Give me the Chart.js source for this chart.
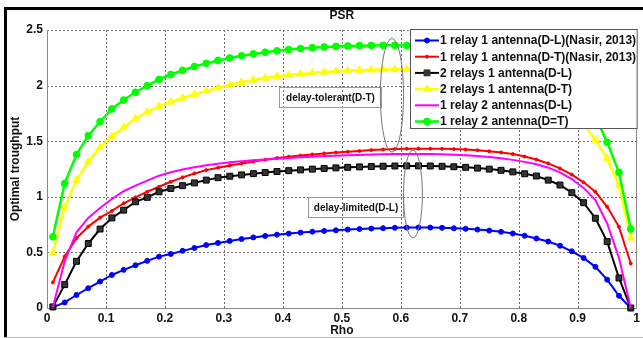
<!DOCTYPE html>
<html>
<head>
<meta charset="utf-8">
<script src="https://cdn.jsdelivr.net/npm/chart.js@4.4.1/dist/chart.umd.min.js"></script>
<style>
body { margin: 0; background: #fff; }
canvas { display: block; }
</style>
</head>
<body>
<canvas id="myChart" width="643" height="338"></canvas>
<script>
// rho values (x)
var rho = [0.01, 0.03, 0.05, 0.07, 0.09, 0.11, 0.13, 0.15, 0.17, 0.19,
    0.21, 0.23, 0.25, 0.27, 0.29, 0.31, 0.33, 0.35, 0.37, 0.39,
    0.41, 0.43, 0.45, 0.47, 0.49, 0.51, 0.53, 0.55, 0.57, 0.59,
    0.61, 0.63, 0.65, 0.67, 0.69, 0.71, 0.73, 0.75, 0.77, 0.79,
    0.81, 0.83, 0.85, 0.87, 0.89, 0.91, 0.93, 0.95, 0.97, 0.99];

var tp_1r1a_dl = [0.005, 0.05, 0.117, 0.178, 0.238, 0.297, 0.343, 0.384, 0.424, 0.462,
    0.486, 0.514, 0.54, 0.566, 0.585, 0.603, 0.62, 0.635, 0.648, 0.659,
    0.669, 0.678, 0.686, 0.693, 0.699, 0.705, 0.71, 0.714, 0.718, 0.721,
    0.723, 0.724, 0.723, 0.721, 0.717, 0.712, 0.705, 0.696, 0.685, 0.67,
    0.65, 0.625, 0.598, 0.56, 0.51, 0.45, 0.37, 0.255, 0.11, 0.0];

var tp_1r1a_dt = [0.23, 0.463, 0.628, 0.732, 0.813, 0.873, 0.942, 0.995, 1.046, 1.09,
    1.135, 1.175, 1.21, 1.24, 1.262, 1.282, 1.3, 1.318, 1.334, 1.348,
    1.36, 1.371, 1.381, 1.39, 1.398, 1.405, 1.412, 1.42, 1.425, 1.429,
    1.432, 1.433, 1.433, 1.432, 1.429, 1.425, 1.419, 1.41, 1.399, 1.384,
    1.362, 1.335, 1.3, 1.255, 1.2, 1.13, 1.045, 0.91, 0.73, 0.4];

var tp_2r1a_dl = [0.01, 0.21, 0.42, 0.58, 0.71, 0.81, 0.88, 0.955, 0.995, 1.045,
    1.075, 1.1, 1.125, 1.15, 1.172, 1.185, 1.197, 1.208, 1.218, 1.227,
    1.235, 1.242, 1.249, 1.255, 1.26, 1.265, 1.269, 1.272, 1.275, 1.277,
    1.278, 1.278, 1.277, 1.274, 1.27, 1.265, 1.258, 1.249, 1.238, 1.224,
    1.207, 1.187, 1.15, 1.106, 1.037, 0.947, 0.807, 0.597, 0.27, 0.0];

var tp_2r1a_dt = [0.493, 0.906, 1.15, 1.315, 1.444, 1.545, 1.623, 1.704, 1.763, 1.814,
    1.853, 1.889, 1.922, 1.952, 1.98, 2.005, 2.03, 2.05, 2.068, 2.083,
    2.095, 2.105, 2.114, 2.122, 2.129, 2.134, 2.139, 2.142, 2.145, 2.146,
    2.147, 2.146, 2.143, 2.139, 2.133, 2.125, 2.114, 2.1, 2.082, 2.06,
    2.032, 1.998, 1.94, 1.87, 1.78, 1.66, 1.51, 1.345, 1.1, 0.63];

var tp_1r2a_dl = [0.01, 0.42, 0.68, 0.81, 0.9, 0.98, 1.05, 1.1, 1.145, 1.19,
    1.22, 1.245, 1.265, 1.283, 1.298, 1.31, 1.32, 1.328, 1.336, 1.343,
    1.35, 1.356, 1.361, 1.366, 1.37, 1.374, 1.377, 1.38, 1.382, 1.384,
    1.385, 1.385, 1.384, 1.382, 1.378, 1.373, 1.366, 1.357, 1.346, 1.332,
    1.314, 1.292, 1.262, 1.22, 1.16, 1.08, 0.97, 0.76, 0.45, 0.0];

var tp_1r2a_dt = [0.64, 1.12, 1.38, 1.55, 1.675, 1.79, 1.87, 1.94, 2.0, 2.055,
    2.1, 2.137, 2.172, 2.2, 2.226, 2.248, 2.268, 2.285, 2.3, 2.313,
    2.324, 2.333, 2.341, 2.347, 2.352, 2.356, 2.359, 2.361, 2.362, 2.362,
    2.361, 2.358, 2.354, 2.348, 2.34, 2.33, 2.317, 2.3, 2.28, 2.255,
    2.225, 2.19, 2.13, 2.07, 1.99, 1.88, 1.72, 1.49, 1.22, 0.71];

var nomes = ['1 relay 1 antenna(D-L)(Nasir, 2013)', '1 relay 1 antenna(D-T)(Nasir, 2013)',
    '2 relays 1 antenna(D-L)', '2 relays 1 antenna(D-T)',
    '1 relay 2 antennas(D-L)', '1 relay 2 antenna(D=T)'];

var x_ticks = [0, 0.1, 0.2, 0.3, 0.4, 0.5, 0.6, 0.7, 0.8, 0.9, 1];
var y_ticks = [0, 0.5, 1, 1.5, 2, 2.5];

var fonte = "'Liberation Sans', Arial, sans-serif";

function pontos(lista) {
    var res = [];
    for (let c = 0; c < rho.length; c++) {
        res.push({ x: rho[c], y: lista[c] });
    }
    return res;
}

var estilos = [
    { cor: '#0000ff', marca: 'circle', raio: 2.5, larg: 2 },
    { cor: '#ff0000', marca: 'circle', raio: 1.5, larg: 2 },
    { cor: '#000000', marca: 'rect', raio: 4.2, larg: 2 },
    { cor: '#ffff00', marca: 'triangle', raio: 4.3, larg: 2.5 },
    { cor: '#ff00ff', marca: false, raio: 0, larg: 2 },
    { cor: '#00ff00', marca: 'circle', raio: 3.4, larg: 2.5 }
];

var series = [tp_1r1a_dl, tp_1r1a_dt, tp_2r1a_dl, tp_2r1a_dt, tp_1r2a_dl, tp_1r2a_dt];

var datasets = [];
for (let c = 0; c < series.length; c++) {
    var e = estilos[c];
    datasets.push({
        label: nomes[c],
        data: pontos(series[c]),
        borderColor: e.cor,
        backgroundColor: e.cor == '#000000' ? '#222' : e.cor,
        borderWidth: e.larg,
        pointStyle: e.marca,
        pointRadius: e.raio,
        pointBorderWidth: 1,
        pointBorderColor: e.cor,
        pointBackgroundColor: e.cor == '#000000' ? '#333' : e.cor,
        tension: 0,
        clip: false,
        order: series.length - c
    });
}

function marca(ctx, tipo, x, y, r, cor) {
    if (!tipo) return;
    ctx.fillStyle = cor;
    ctx.strokeStyle = cor;
    ctx.beginPath();
    if (tipo == 'circle') {
        ctx.arc(x, y, r, 0, Math.PI * 2);
    } else if (tipo == 'rect') {
        var s = r * Math.SQRT1_2;
        ctx.rect(x - s, y - s, 2 * s, 2 * s);
    } else if (tipo == 'triangle') {
        ctx.moveTo(x, y - r);
        ctx.lineTo(x + r * 0.866, y + r * 0.5);
        ctx.lineTo(x - r * 0.866, y + r * 0.5);
        ctx.closePath();
    }
    ctx.fill();
    ctx.stroke();
}

var extras = {
    id: 'extras',
    beforeDraw: function (chart) {
        var ctx = chart.ctx;
        ctx.save();
        ctx.fillStyle = '#fff';
        ctx.fillRect(0, 0, chart.width, chart.height);
        ctx.restore();
    },
    beforeDatasetsDraw: function (chart) {
        var ctx = chart.ctx;
        var a = chart.chartArea;
        var sx = chart.scales.x;
        var sy = chart.scales.y;
        ctx.save();
        // grade pontilhada
        ctx.strokeStyle = '#6e6e6e';
        ctx.lineWidth = 1;
        ctx.setLineDash([2, 2]);
        for (let c = 1; c < x_ticks.length - 1; c++) {
            var px = Math.round(sx.getPixelForValue(x_ticks[c])) + 0.5;
            ctx.beginPath();
            ctx.moveTo(px, a.top);
            ctx.lineTo(px, a.bottom);
            ctx.stroke();
        }
        for (let c = 1; c < y_ticks.length; c++) {
            var py = Math.round(sy.getPixelForValue(y_ticks[c])) + 0.5;
            ctx.beginPath();
            ctx.moveTo(a.left, py);
            ctx.lineTo(a.right, py);
            ctx.stroke();
        }
        ctx.setLineDash([]);
        ctx.strokeStyle = '#8a8a8a';
        ctx.beginPath();
        ctx.moveTo(Math.round(a.left) + 0.5, a.top);
        ctx.lineTo(Math.round(a.left) + 0.5, Math.round(a.bottom) + 0.5);
        ctx.lineTo(a.right, Math.round(a.bottom) + 0.5);
        ctx.moveTo(Math.round(a.right) - 0.5, a.top);
        ctx.lineTo(Math.round(a.right) - 0.5, a.bottom);
        ctx.stroke();
        ctx.restore();
    },
    afterDatasetsDraw: function (chart) {
        var ctx = chart.ctx;
        var a = chart.chartArea;
        var sx = chart.scales.x;
        var sy = chart.scales.y;
        ctx.save();

        // caixas de texto
        ctx.font = 'bold 10px ' + fonte;
        ctx.textBaseline = 'middle';
        ctx.textAlign = 'center';
        var caixas = [
            { txt: 'delay-tolerant(D-T)', x1: 0.394, x2: 0.567, y1: 1.987, y2: 1.808 },
            { txt: 'delay-limited(D-L)', x1: 0.442, x2: 0.604, y1: 1.0, y2: 0.822 }
        ];
        for (let c = 0; c < caixas.length; c++) {
            var b = caixas[c];
            var px1 = Math.round(sx.getPixelForValue(b.x1)) + 0.5;
            var px2 = Math.round(sx.getPixelForValue(b.x2)) + 0.5;
            var py1 = Math.round(sy.getPixelForValue(b.y1)) + 0.5;
            var py2 = Math.round(sy.getPixelForValue(b.y2)) + 0.5;
            ctx.strokeStyle = '#999';
            ctx.lineWidth = 1;
            ctx.strokeRect(px1, py1, px2 - px1, py2 - py1);
            ctx.fillStyle = '#111';
            ctx.fillText(b.txt, (px1 + px2) / 2, (py1 + py2) / 2 + 0.5);
        }

        // elipses
        var elipses = [
            { x: 0.585, y: 1.913, rx: 0.0197, ry: 0.511 },
            { x: 0.6206, y: 1.025, rx: 0.016, ry: 0.395 }
        ];
        ctx.strokeStyle = '#777';
        ctx.lineWidth = 1;
        for (let c = 0; c < elipses.length; c++) {
            var el = elipses[c];
            var cx = sx.getPixelForValue(el.x);
            var cy = sy.getPixelForValue(el.y);
            var rx = sx.getPixelForValue(el.x + el.rx) - cx;
            var ry = cy - sy.getPixelForValue(el.y + el.ry);
            ctx.beginPath();
            ctx.ellipse(cx, cy, rx, ry, 0, 0, Math.PI * 2);
            ctx.stroke();
        }

        // legenda
        var lx = 410.5, ly = 29.5, lw = a.right - 410, lh = 99;
        ctx.fillStyle = '#fff';
        ctx.fillRect(lx, ly, lw, lh);
        ctx.strokeStyle = '#555';
        ctx.strokeRect(lx, ly, lw, lh);
        ctx.font = 'bold 12px ' + fonte;
        ctx.textAlign = 'left';
        for (let c = 0; c < datasets.length; c++) {
            var ds = datasets[c];
            var yy = 40.5 + c * 16.2;
            ctx.strokeStyle = ds.borderColor;
            ctx.lineWidth = ds.borderWidth;
            ctx.beginPath();
            ctx.moveTo(415, yy);
            ctx.lineTo(439, yy);
            ctx.stroke();
            ctx.lineWidth = 1;
            marca(ctx, ds.pointStyle, 427, yy, ds.pointRadius, ds.pointBackgroundColor);
            ctx.fillStyle = '#111';
            ctx.fillText(ds.label, 440, yy + 0.5);
        }
        ctx.restore();
    },
    afterDraw: function (chart) {
        var ctx = chart.ctx;
        var a = chart.chartArea;
        ctx.save();
        ctx.fillStyle = '#111';
        ctx.font = 'bold 12px ' + fonte;
        ctx.textAlign = 'center';
        ctx.textBaseline = 'middle';
        ctx.fillText('PSR', (a.left + a.right) / 2, 16);
        // moldura
        ctx.fillStyle = '#000';
        ctx.fillRect(4, 7, chart.width - 4, 3);
        ctx.fillRect(4, 7, 3, chart.height - 7);
        ctx.fillStyle = '#bbb';
        ctx.fillRect(4, chart.height - 1, chart.width - 4, 1);
        ctx.restore();
    }
};

var config = {
    type: 'line',
    data: { datasets: datasets },
    options: {
        responsive: false,
        animation: false,
        devicePixelRatio: 1,
        layout: { padding: { left: 0, top: 30, right: 3, bottom: 0 } },
        plugins: {
            legend: { display: false },
            tooltip: { enabled: false },
            title: { display: false }
        },
        scales: {
            x: {
                type: 'linear',
                min: 0,
                max: 1,
                afterBuildTicks: function (s) {
                    s.ticks = x_ticks.map(function (v) { return { value: v }; });
                },
                afterFit: function (s) { s.height = 30; },
                ticks: {
                    padding: 3,
                    color: '#111',
                    font: { family: fonte, size: 12, weight: 'bold' },
                    maxRotation: 0,
                    callback: function (v) { return String(Math.round(v * 10) / 10); }
                },
                grid: { display: false, drawTicks: false },
                border: { display: false },
                title: {
                    display: true,
                    text: 'Rho',
                    color: '#111',
                    font: { family: fonte, size: 12, weight: 'bold' },
                    padding: { top: 0, bottom: 0 }
                }
            },
            y: {
                min: 0,
                max: 2.5,
                afterBuildTicks: function (s) {
                    s.ticks = y_ticks.map(function (v) { return { value: v }; });
                },
                afterFit: function (s) { s.width = 47; },
                ticks: {
                    padding: 4,
                    color: '#111',
                    font: { family: fonte, size: 12, weight: 'bold' },
                    callback: function (v) { return String(Math.round(v * 10) / 10); }
                },
                grid: { display: false, drawTicks: false },
                border: { display: false },
                title: {
                    display: true,
                    text: 'Optimal troughput',
                    color: '#111',
                    font: { family: fonte, size: 12, weight: 'bold' },
                    padding: { top: 8, bottom: 0 }
                }
            }
        }
    },
    plugins: [extras]
};

const myChart = new Chart(document.getElementById('myChart'), config);
</script>
</body>
</html>
